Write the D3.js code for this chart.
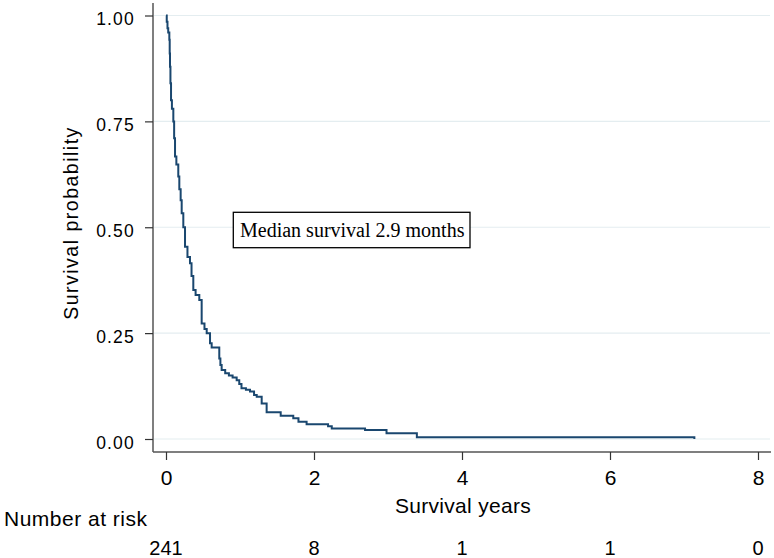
<!DOCTYPE html>
<html><head><meta charset="utf-8">
<script src="https://cdn.jsdelivr.net/npm/d3@7"></script>
<style>body{margin:0;background:#fff}svg{display:block}</style>
</head><body>
<svg id="c" width="774" height="558"></svg>
<script>
// ---- data ----
const times = [0,0.01,0.02,0.03,0.045,0.05,0.054,0.06,0.068,0.08,0.099,0.11,0.122,0.14,0.166,0.18,0.198,0.212,0.234,0.257,0.29,0.324,0.345,0.369,0.40,0.45,0.482,0.52,0.55,0.595,0.617,0.72,0.735,0.752,0.80,0.85,0.90,0.955,0.99,1.02,1.08,1.135,1.19,1.226,1.293,1.36,1.55,1.72,1.79,1.90,2.19,2.24,2.69,2.98,3.39,7.14];
const survival = [1,0.985,0.97,0.96,0.943,0.91,0.879,0.84,0.80,0.78,0.75,0.71,0.667,0.648,0.62,0.59,0.564,0.533,0.50,0.454,0.43,0.415,0.385,0.352,0.34,0.328,0.273,0.26,0.25,0.226,0.216,0.19,0.175,0.163,0.155,0.15,0.145,0.139,0.13,0.12,0.116,0.112,0.104,0.10,0.084,0.063,0.055,0.049,0.041,0.035,0.03,0.025,0.021,0.0134,0.0041,0];
const xTicks = [0,2,4,6,8];
const yTicks = [0,0.25,0.5,0.75,1];
const yTickLabels = ["0.00","0.25","0.50","0.75","1.00"];
const riskYears = [0,2,4,6,8];
const riskCounts = [241,8,1,1,0];
const annotation = "Median survival 2.9 months";

const svg = d3.select("#c");
const x = d3.scaleLinear().domain([0,8]).range([166,758]);
const y = d3.scaleLinear().domain([0,1]).range([439,15.5]);
const sans = "'Liberation Sans', Arial, Helvetica, sans-serif";

// gridlines
svg.append("g").selectAll("line").data(yTicks).join("line")
  .attr("x1",154).attr("x2",770).attr("y1",d=>y(d)).attr("y2",d=>y(d))
  .attr("stroke","#e4edf0").attr("stroke-width",1.2);

// y axis
const yAxis = d3.axisLeft(y).tickValues(yTicks).tickSize(8).tickPadding(10)
  .tickFormat((d,i)=>yTickLabels[i]);
const gy = svg.append("g").attr("transform","translate(153,0)").call(yAxis);
gy.select(".domain").attr("d","M0,3V452").attr("stroke","#555").attr("stroke-width",1.5);
gy.selectAll(".tick line").attr("stroke","#333").attr("stroke-width",1.2);
gy.selectAll(".tick text").attr("font-family",sans).attr("font-size",17.5)
  .attr("letter-spacing",1.2).attr("fill","#000").attr("dy","0.52em").attr("x",-18);

// x axis
const xAxis = d3.axisBottom(x).tickValues(xTicks).tickSize(8).tickPadding(10).tickFormat(d3.format("d"));
const gx = svg.append("g").attr("transform","translate(0,452)").call(xAxis);
gx.select(".domain").attr("d","M153,0H771").attr("stroke","#555").attr("stroke-width",1.5);
gx.selectAll(".tick line").attr("stroke","#333").attr("stroke-width",1.2);
gx.selectAll(".tick text").attr("font-family",sans).attr("font-size",21).attr("fill","#000")
  .attr("dy",null).attr("y",33);

// curve
const pts = times.map((t,i)=>[t,survival[i]]);
svg.append("path").datum(pts)
  .attr("d",d3.line().x(d=>x(d[0])).y(d=>y(d[1])).curve(d3.curveStepAfter))
  .attr("fill","none").attr("stroke","#1a476f").attr("stroke-width",2);

// axis titles
svg.append("text").attr("x",463).attr("y",512.5).attr("text-anchor","middle")
  .attr("font-family",sans).attr("font-size",21).attr("letter-spacing",0.3).text("Survival years");
svg.append("text").attr("transform","translate(78,223) rotate(-90)").attr("text-anchor","middle")
  .attr("font-family",sans).attr("font-size",19.5).attr("letter-spacing",1.5).text("Survival probability");

// number at risk
svg.append("text").attr("x",4).attr("y",525.5).attr("font-family",sans).attr("font-size",21)
  .attr("letter-spacing",0.5).text("Number at risk");
svg.append("g").selectAll("text").data(riskYears).join("text")
  .attr("x",d=>x(d)).attr("y",555).attr("text-anchor","middle")
  .attr("font-family",sans).attr("font-size",20).text((d,i)=>riskCounts[i]);

// annotation box
const ag = svg.append("g");
const rect = ag.append("rect");
const at = ag.append("text").attr("x",240).attr("y",236.7)
  .attr("font-family","'Liberation Serif', 'Times New Roman', serif").attr("font-size",20).text(annotation);
rect.attr("x",233.3).attr("y",212.3).attr("width",236.7).attr("height",35.4)
  .attr("fill","#fff").attr("stroke","#000").attr("stroke-width",1.3);
</script>
</body></html>
